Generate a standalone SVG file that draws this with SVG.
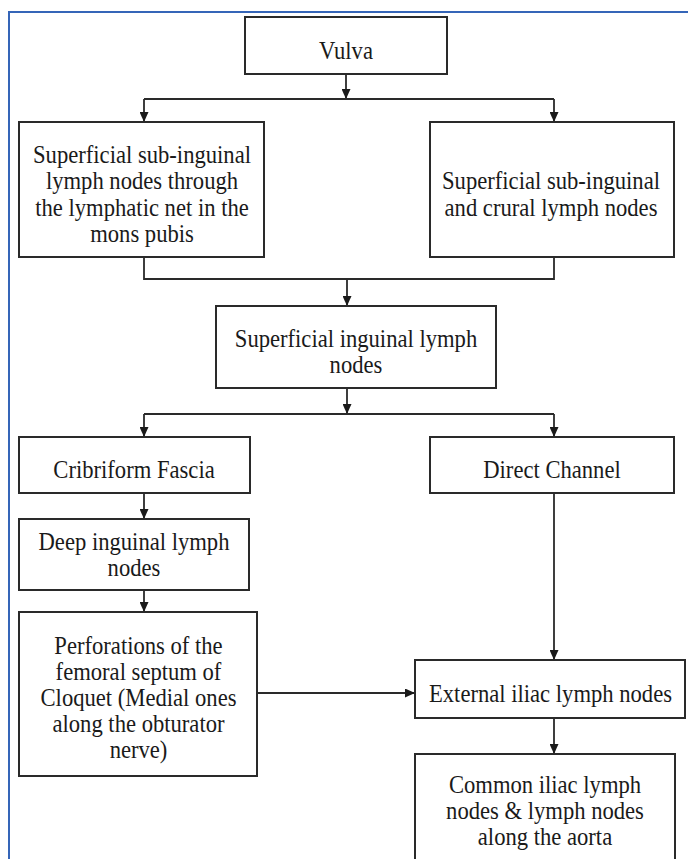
<svg xmlns="http://www.w3.org/2000/svg" width="688" height="859" viewBox="0 0 688 859">
<defs>
<style>
.box{fill:#fff;stroke:#2a2a2a;stroke-width:2}
.t{font-family:"Liberation Serif","Times New Roman",serif;font-size:25px;fill:#1a1a1a;text-anchor:middle}
.c{fill:none;stroke:#2a2a2a;stroke-width:1.8}
.a{marker-end:url(#arr)}
</style>
<marker id="arr" markerUnits="userSpaceOnUse" markerWidth="10" markerHeight="9" refX="10" refY="4.5" orient="auto">
<path d="M0,0 L10,4.5 L0,9 z" fill="#1a1a1a"/>
</marker>
</defs>
<rect x="0" y="0" width="688" height="859" fill="#fff"/>
<polyline points="688,12 9,12 9,859" fill="none" stroke="#3565b8" stroke-width="2"/>

<g id="connectors">
<line class="c a" x1="346" y1="74" x2="346" y2="99"/>
<line class="c" x1="144" y1="99" x2="554" y2="99"/>
<line class="c a" x1="144" y1="99" x2="144" y2="122"/>
<line class="c a" x1="554" y1="99" x2="554" y2="122"/>
<polyline class="c" points="144,257 144,279 554,279 554,257"/>
<line class="c a" x1="347" y1="279" x2="347" y2="306"/>
<line class="c a" x1="347" y1="388" x2="347" y2="414"/>
<line class="c" x1="144" y1="414" x2="554" y2="414"/>
<line class="c a" x1="144" y1="414" x2="144" y2="437"/>
<line class="c a" x1="554" y1="414" x2="554" y2="437"/>
<line class="c a" x1="144" y1="493" x2="144" y2="519"/>
<line class="c a" x1="144" y1="590" x2="144" y2="612"/>
<line class="c a" x1="257" y1="693" x2="415" y2="693"/>
<line class="c a" x1="554" y1="493" x2="554" y2="660"/>
<line class="c a" x1="554" y1="718" x2="554" y2="754"/>
</g>

<g id="vulva">
<rect class="box" x="245" y="17" width="202" height="57"/>
<g transform="translate(346,0) scale(0.905,1)"><text class="t" x="0" y="59">Vulva</text></g>
</g>

<g id="sub-inguinal-mons">
<rect class="box" x="19" y="122" width="245" height="135"/>
<g transform="translate(142,0) scale(0.905,1)">
<text class="t" x="0" y="163">Superficial sub-inguinal</text>
<text class="t" x="0" y="189.5">lymph nodes through</text>
<text class="t" x="0" y="216">the lymphatic net in the</text>
<text class="t" x="0" y="242">mons pubis</text>
</g>
</g>

<g id="sub-inguinal-crural">
<rect class="box" x="430" y="122" width="244" height="135"/>
<g transform="translate(551,0) scale(0.905,1)">
<text class="t" x="0" y="189.5">Superficial sub-inguinal</text>
<text class="t" x="0" y="216">and crural lymph nodes</text>
</g>
</g>

<g id="superficial-inguinal">
<rect class="box" x="216" y="306" width="280" height="82"/>
<g transform="translate(356,0) scale(0.905,1)">
<text class="t" x="0" y="347">Superficial inguinal lymph</text>
<text class="t" x="0" y="373">nodes</text>
</g>
</g>

<g id="cribriform">
<rect class="box" x="19" y="437" width="231" height="56"/>
<g transform="translate(134,0) scale(0.905,1)"><text class="t" x="0" y="478">Cribriform Fascia</text></g>
</g>

<g id="direct-channel">
<rect class="box" x="430" y="437" width="244" height="56"/>
<g transform="translate(552,0) scale(0.905,1)"><text class="t" x="0" y="478">Direct Channel</text></g>
</g>

<g id="deep-inguinal">
<rect class="box" x="19" y="519" width="230" height="71"/>
<g transform="translate(134,0) scale(0.905,1)">
<text class="t" x="0" y="550">Deep inguinal lymph</text>
<text class="t" x="0" y="576">nodes</text>
</g>
</g>

<g id="perforations">
<rect class="box" x="19" y="612" width="238" height="164"/>
<g transform="translate(138.5,0) scale(0.905,1)">
<text class="t" x="0" y="654">Perforations of the</text>
<text class="t" x="0" y="680">femoral septum of</text>
<text class="t" x="0" y="706">Cloquet (Medial ones</text>
<text class="t" x="0" y="732">along the obturator</text>
<text class="t" x="0" y="758">nerve)</text>
</g>
</g>

<g id="external-iliac">
<rect class="box" x="415" y="660" width="270" height="58"/>
<g transform="translate(550.5,0) scale(0.905,1)"><text class="t" x="0" y="702">External iliac lymph nodes</text></g>
</g>

<g id="common-iliac">
<rect class="box" x="415" y="754" width="260" height="130"/>
<g transform="translate(545,0) scale(0.905,1)">
<text class="t" x="0" y="793">Common iliac lymph</text>
<text class="t" x="0" y="819">nodes &amp; lymph nodes</text>
<text class="t" x="0" y="845">along the aorta</text>
</g>
</g>
</svg>
